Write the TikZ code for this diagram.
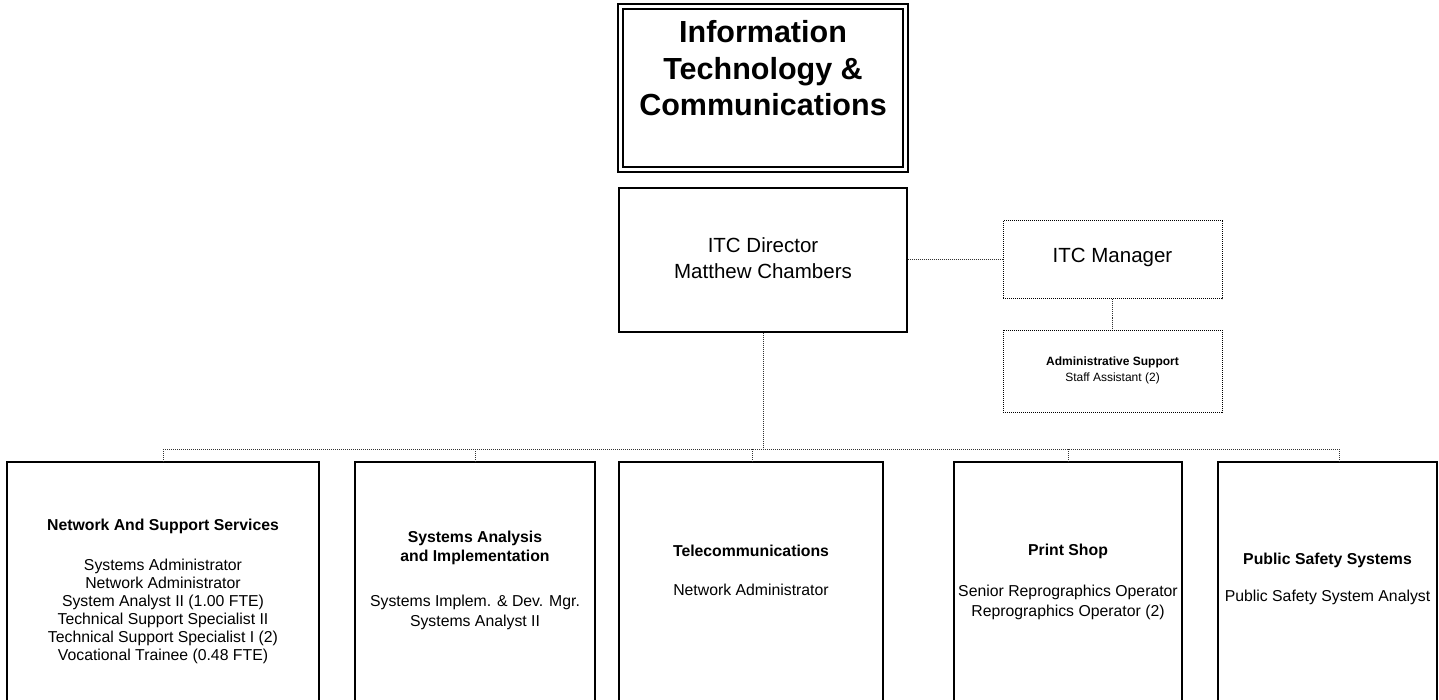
\documentclass[tikz,border=0pt]{standalone}
\usepackage{fontspec}
\setmainfont{Liberation Sans}
\begin{document}
\begin{tikzpicture}[x=1pt,y=-1pt,
  solidbox/.style={draw=black, line width=1.4pt, inner sep=0pt, rectangle},
  dotbox/.style={draw=black, line width=1pt, densely dotted, inner sep=0pt, rectangle},
  link/.style={draw=black!80, line width=1pt, densely dotted},
  txt/.style={align=center, anchor=base, inner sep=0pt},
  body/.style={txt, font=\fontsize{15.8}{18}\selectfont},
  head/.style={txt, font=\fontsize{15.8}{19}\selectfont\bfseries},
]
% multi-line texts are placed by the baseline of their last line
\useasboundingbox (0,0) rectangle (1439,700);
\fill[white] (0,0) rectangle (1439,700);
\clip (0,0) rectangle (1439,700);

% title block with a double frame
\node[draw=black, line width=1.5pt, double=white, double distance=3.5pt,
      inner sep=0pt, minimum width=285pt, minimum height=163pt] (title) at (763,88) {};
\node[txt, font=\fontsize{30.5}{36.5}\selectfont\bfseries] (titletext) at (763,116)
  {Information\\Technology \&\\Communications};

% director and manager
\node[solidbox, minimum width=288pt, minimum height=144pt] (dir) at (763,260) {};
\node[txt, font=\fontsize{20.5}{26}\selectfont] (dirtext) at (763,279)
  {ITC Director\\Matthew Chambers};

\node[dotbox, minimum width=219pt, minimum height=78pt] (mgr) at (1112.5,260) {};
\node[txt, font=\fontsize{20.5}{26}\selectfont] (mgrtext) at (1112.5,263) {ITC Manager};

\node[dotbox, minimum width=219pt, minimum height=82pt] (adm) at (1112.5,371) {};
\node[txt, font=\fontsize{12}{16}\selectfont\bfseries] (admhead) at (1112.5,365) {Administrative Support};
\node[txt, font=\fontsize{12}{16}\selectfont] (admbody) at (1112.5,381) {Staff Assistant (2)};

% division boxes (they run past the lower edge)
\node[solidbox, minimum width=312pt, minimum height=258pt] (b1) at (163,591) {};
\node[solidbox, minimum width=240pt, minimum height=258pt] (b2) at (475,591) {};
\node[solidbox, minimum width=264pt, minimum height=258pt] (b3) at (751,591) {};
\node[solidbox, minimum width=228pt, minimum height=258pt] (b4) at (1068,591) {};
\node[solidbox, minimum width=219pt, minimum height=258pt] (b5) at (1327.5,591) {};

\node[head] (h1) at (163,530) {Network And Support Services};
\node[body] (t1) at (163,660) {Systems Administrator\\Network Administrator\\System Analyst II (1.00 FTE)\\Technical Support Specialist II\\Technical Support Specialist I (2)\\Vocational Trainee (0.48 FTE)};

\node[head] (h2) at (475,561) {Systems Analysis\\and Implementation};
\node[body, font=\fontsize{15.8}{20}\selectfont] (t2) at (475,626) {Systems Implem. \& Dev. Mgr.\\Systems Analyst II};

\node[head] (h3) at (751,556) {Telecommunications};
\node[body] (t3) at (751,595) {Network Administrator};

\node[head] (h4) at (1068,555) {Print Shop};
\node[body, font=\fontsize{15.8}{20}\selectfont] (t4) at (1068,616) {Senior Reprographics Operator\\Reprographics Operator (2)};

\node[head] (h5) at (1327.5,564) {Public Safety Systems};
\node[body] (t5) at (1327.5,601) {Public Safety System Analyst};

% connectors
\draw[link] (dir.east) -- (mgr.west);
\draw[link] (mgr.south) -- (adm.north);
\coordinate (hub) at (763,449);
\coordinate (j1) at (163,449);
\coordinate (j2) at (475,449);
\coordinate (j3) at (752,449);
\coordinate (j4) at (1068,449);
\coordinate (j5) at (1339,449);
\draw[link] (dir.south) -- (hub);
\draw[link] (j1) -- (j5);
\draw[link] (j1) -- (b1.north);
\draw[link] (j2) -- (b2.north);
\draw[link] (j3) -- (j3 |- b3.north);
\draw[link] (j4) -- (b4.north);
\draw[link] (j5) -- (j5 |- b5.north);
\end{tikzpicture}
\end{document}
